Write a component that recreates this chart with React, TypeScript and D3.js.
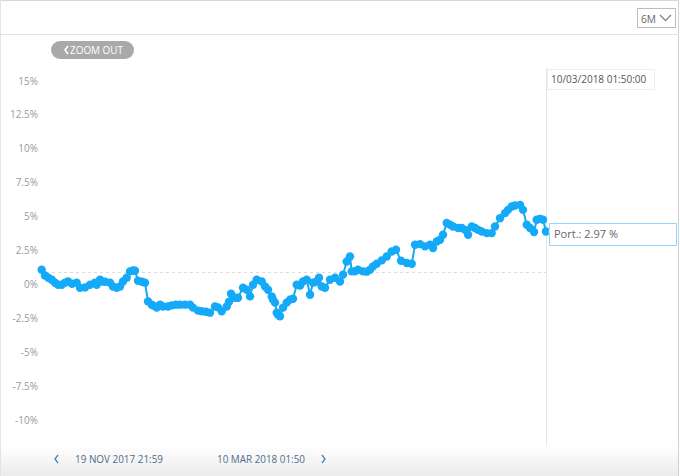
import React from "react";
import * as d3 from "d3";

// days since 19 NOV 2017 21:59
const days = [0.37,1.09,1.81,2.55,3.27,3.92,4.72,5.44,6.10,6.97,7.99,8.71,9.80,10.89,11.97,12.34,13.06,13.43,14.15,15.24,15.89,16.70,17.42,18.07,18.88,19.60,20.25,20.68,21.34,22.21,22.86,23.51,24.32,24.71,25.41,26.13,26.78,27.87,28.67,29.61,30.48,31.57,32.66,33.31,34.40,35.21,36.14,37.01,38.10,38.75,39.56,40.65,41.15,41.59,42.46,43.11,44.20,45.00,45.72,46.38,47.18,48.27,48.99,49.64,50.45,50.73,51.17,51.54,51.82,52.25,52.91,53.71,54.43,55.08,55.89,56.61,57.26,58.07,58.79,59.44,60.24,60.74,61.33,62.05,63.14,64.23,65.32,65.97,66.78,67.49,67.86,68.58,69.24,70.32,71.13,71.85,72.50,73.31,74.40,75.49,76.57,77.51,78.60,79.84,80.93,81.65,82.73,83.82,84.91,85.57,86.37,87.09,87.74,88.55,89.27,89.92,91.01,91.81,92.53,93.19,93.99,94.71,95.36,96.17,97.26,98.34,99.06,100.15,101.24,101.89,102.70,103.42,104.51,105.16,105.97,106.69,107.56,108.14,108.86,109.52,110.16];
const portfolio = [1.10,0.68,0.51,0.37,0.15,0.00,0.00,0.15,0.24,0.07,0.15,-0.22,-0.20,0.00,0.15,0.00,0.37,0.24,0.22,0.15,-0.13,-0.22,-0.13,0.24,0.51,0.98,1.05,1.03,0.29,0.22,0.15,-1.23,-1.47,-1.54,-1.69,-1.47,-1.60,-1.60,-1.52,-1.47,-1.47,-1.47,-1.47,-1.69,-1.91,-1.96,-1.99,-2.06,-1.60,-1.67,-1.96,-1.60,-1.25,-0.66,-0.96,-0.96,-0.22,-0.37,-0.86,0.00,0.37,0.24,-0.13,-0.37,-0.86,-1.10,-1.32,-2.06,-2.21,-2.32,-1.69,-1.32,-1.10,-1.03,0.00,-0.07,0.24,0.37,-0.74,0.15,0.24,0.51,-0.13,-0.22,0.37,0.51,0.24,0.74,1.71,2.08,0.98,0.98,1.10,0.98,0.96,1.10,1.35,1.54,1.79,2.08,2.45,2.57,1.76,1.60,1.54,2.94,2.99,2.82,2.94,2.70,3.18,3.31,3.68,4.54,4.41,4.29,4.17,4.17,4.04,3.68,4.29,4.17,4.04,3.92,3.80,3.80,4.29,4.90,5.27,5.51,5.76,5.83,5.88,5.51,4.41,4.17,3.88,4.78,4.85,4.78,3.92];
const yTicks = [15,12.5,10,7.5,5,2.5,0,-2.5,-5,-7.5,-10];
const baseline = 0.9;
const rangeStart = "19 NOV 2017 21:59";
const rangeEnd = "10 MAR 2018 01:50";
const hoverDate = "10/03/2018 01:50:00";
const hoverLabel = "Port.: 2.97 %";
const period = "6M";

export default function App() {
  const W = 680, H = 476;
  const x = d3.scaleLinear().domain([0, 110.16]).range([40, 546]);
  const y = d3.scaleLinear().domain([-10, 15]).range([420.5, 81]);
  const pts = days.map((d, i) => [d, portfolio[i]] as [number, number]);
  const line = d3.line<[number, number]>().x(d => x(d[0])).y(d => y(d[1]));
  const lastX = x(days[days.length - 1]);
  const lastY = y(portfolio[portfolio.length - 1]);
  const font = "'Open Sans', sans-serif";
  return (
    <svg width={W} height={H} style={{ position: "absolute", left: 0, top: 0, fontFamily: font }}>
      <defs>
        <linearGradient id="nav" x1="0" y1="0" x2="0" y2="1">
          <stop offset="0" stopColor="#ffffff" />
          <stop offset="1" stopColor="#ececec" />
        </linearGradient>
      </defs>
      <rect x={0} y={0} width={W} height={H} fill="#fff" />
      <rect x={0} y={445} width={679} height={31} fill="url(#nav)" />
      <line x1={0} x2={679} y1={0.5} y2={0.5} stroke="#d8d8d8" />
      <line x1={678.5} x2={678.5} y1={0} y2={H} stroke="#d0d0d0" />
      <line x1={0.5} x2={0.5} y1={0} y2={H} stroke="#e4e4e4" />
      <line x1={0} x2={679} y1={34.5} y2={34.5} stroke="#e2e2e2" />
      {/* period selector */}
      <rect x={637.5} y={8.5} width={38} height={19} fill="#fff" stroke="#bdbdbd" />
      <text x={641} y={22.5} fontSize={11} fill="#666" textLength={15} lengthAdjust="spacingAndGlyphs">{period}</text>
      <path d="M660,15 L665.5,20.5 L671,15" fill="none" stroke="#888" strokeWidth={1.4} />
      {/* zoom out */}
      <rect x={51} y={41} width={83} height={18} rx={9} fill="#a9a9a9" />
      <path d="M68,46 L65,50 L68,54" fill="none" stroke="#fff" strokeWidth={1.6} />
      <text x={70} y={54} fontSize={10} fill="#fff" textLength={53} lengthAdjust="spacingAndGlyphs">ZOOM OUT</text>
      {/* y axis labels */}
      {yTicks.map(t => (
        <text key={t} x={38} y={y(t) + 3.5} fontSize={10} fill="#9a9a9a" textAnchor="end">{`${t}%`}</text>
      ))}
      {/* crosshair */}
      <line x1={lastX + 0.5} x2={lastX + 0.5} y1={68} y2={446} stroke="#e6e6e6" />
      {/* baseline */}
      <line x1={40} x2={546} y1={y(baseline)} y2={y(baseline)} stroke="#dcdcdc" strokeDasharray="3,3" />
      {/* series */}
      <path d={line(pts) || ""} fill="none" stroke="#14aaf8" strokeWidth={2} />
      {pts.map((p, i) => (
        <circle key={i} cx={x(p[0])} cy={y(p[1])} r={4.2} fill="#14aaf8" />
      ))}
      {/* date tooltip */}
      <rect x={547.5} y={69.5} width={107} height={20} fill="#fff" stroke="#eeeeee" />
      <text x={551} y={83} fontSize={10} fill="#555">{hoverDate}</text>
      {/* value tooltip */}
      <path d={`M${lastX + 3},${lastY} L549.5,${lastY - 5} L549.5,223.5 L676.5,223.5 L676.5,245.5 L549.5,245.5 L549.5,${lastY + 5} Z`} fill="#fff" stroke="#8fd4ff" />
      <text x={554} y={238} fontSize={11} fill="#666">{hoverLabel}</text>
      {/* navigator */}
      <path d="M58,455 L55,459 L58,463" fill="none" stroke="#3f86c4" strokeWidth={1.3} />
      <text x={75} y={463} fontSize={10} fill="#4f6d8c" textLength={88} lengthAdjust="spacingAndGlyphs">{rangeStart}</text>
      <text x={217} y={463} fontSize={10} fill="#4f6d8c" textLength={88} lengthAdjust="spacingAndGlyphs">{rangeEnd}</text>
      <path d="M322,455 L325,459 L322,463" fill="none" stroke="#3f86c4" strokeWidth={1.3} />
    </svg>
  );
}
